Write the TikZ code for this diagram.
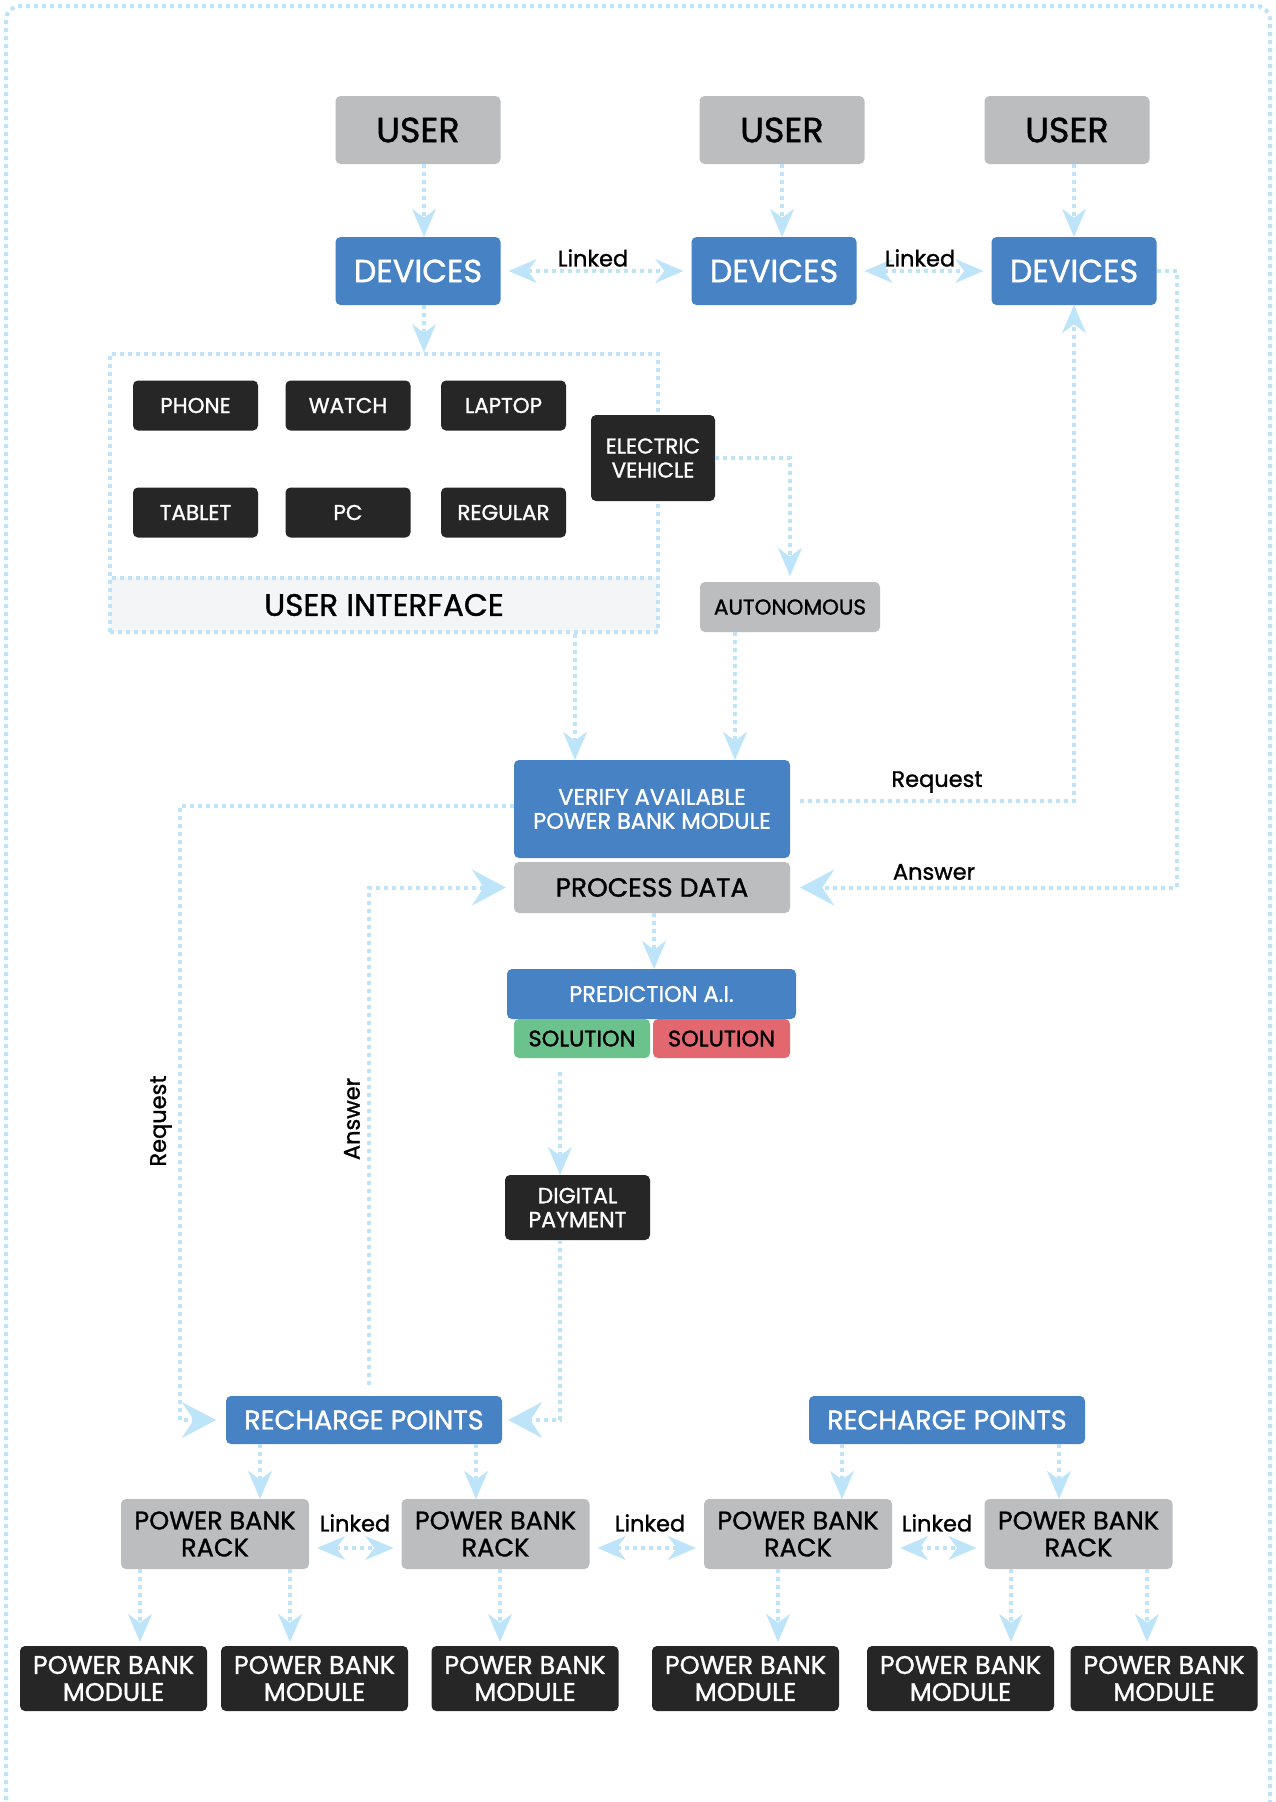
\documentclass[tikz,border=0pt]{standalone}
\usepackage{fontspec}
\setmainfont{Poppins}[UprightFeatures={FakeBold=1.2}]
\usetikzlibrary{arrows.meta,calc}
\definecolor{bluec}{RGB}{70,130,196}
\definecolor{grayc}{RGB}{188,189,191}
\definecolor{darkc}{RGB}{38,38,38}
\definecolor{linec}{RGB}{190,228,250}
\definecolor{greenc}{RGB}{108,194,140}
\definecolor{redc}{RGB}{227,103,111}
\definecolor{bandc}{RGB}{244,245,247}
\newcommand\fz[2]{\fontsize{#1}{#2}\selectfont}
\tikzset{
  box/.style={rounded corners=5pt, align=center, inner sep=0pt},
  gbox/.style={box, fill=grayc, text=black},
  bbox/.style={box, fill=bluec, text=white},
  kbox/.style={box, fill=darkc, text=white},
  conn/.style={draw=linec, line width=4pt, dash pattern=on 4pt off 4pt},
  tipa/.tip={Stealth[length=28pt,width=24pt,inset=9pt,line width=0.5pt]},
  tipb/.tip={Stealth[length=34pt,width=36pt,inset=12pt,line width=0.5pt]},
  arr/.style={conn, -tipa},
  arrb/.style={conn, -tipb},
  darr/.style={conn, tipa-tipa},
  lbl/.style={font=\fz{22.5}{26}, text=black, inner sep=0pt},
}
\begin{document}
\begin{tikzpicture}[x=1pt,y=-1pt]
\useasboundingbox (0,0) rectangle (1275,1802);
\fill[white] (0,0) rectangle (1275,1802);
\draw[conn, rounded corners=14pt] (6,1840) -- (6,6) -- (1270,6) -- (1270,1840);

% users
\node[gbox, minimum width=165pt, minimum height=68pt, font=\fz{35}{40}] (u1) at (418,130) {USER};
\node[gbox, minimum width=165pt, minimum height=68pt, font=\fz{35}{40}] (u2) at (782,130) {USER};
\node[gbox, minimum width=165pt, minimum height=68pt, font=\fz{35}{40}] (u3) at (1067,130) {USER};
% devices
\node[bbox, minimum width=165pt, minimum height=68pt, font=\fz{32}{36}] (d1) at (418,271) {DEVICES};
\node[bbox, minimum width=165pt, minimum height=68pt, font=\fz{32}{36}] (d2) at (774,271) {DEVICES};
\node[bbox, minimum width=165pt, minimum height=68pt, font=\fz{32}{36}] (d3) at (1074,271) {DEVICES};

\draw[arr] ([xshift=6pt]u1.south) -- ([xshift=6pt]d1.north);
\draw[arr] (u2.south) -- (u2.south |- d2.north);
\draw[arr] (d3.north |- u3.south) -- (d3.north);
\draw[darr, shorten <=8pt, shorten >=8pt] (d1.east) -- (d2.west);
\draw[darr, shorten <=8pt, shorten >=8pt] (d2.east) -- (d3.west);
\node[lbl] (lk1) at (593,258) {Linked};
\node[lbl] (lk2) at (920,258) {Linked};

% user interface
\node[conn, minimum width=548pt, minimum height=278pt, inner sep=0pt] (ui) at (384,493) {};
\node[conn, fill=bandc, minimum width=548pt, minimum height=54pt, inner sep=0pt, font=\fz{31}{35}] (uiband) at (384,605) {USER INTERFACE};
\draw[arr] ([xshift=6pt]d1.south) -- ([xshift=6pt]d1.south |- ui.north);

\node[kbox, minimum width=125pt, minimum height=50pt, font=\fz{21.5}{25}] (phone) at (195.5,405.5) {PHONE};
\node[kbox, minimum width=125pt, minimum height=50pt, font=\fz{21.5}{25}] (watch) at (348,405.5) {WATCH};
\node[kbox, minimum width=125pt, minimum height=50pt, font=\fz{21.5}{25}] (laptop) at (503.5,405.5) {LAPTOP};
\node[kbox, minimum width=125pt, minimum height=50pt, font=\fz{21.5}{25}] (tablet) at (195.5,512.5) {TABLET};
\node[kbox, minimum width=125pt, minimum height=50pt, font=\fz{21.5}{25}] (pc) at (348,512.5) {PC};
\node[kbox, minimum width=125pt, minimum height=50pt, font=\fz{21.5}{25}] (regular) at (503.5,512.5) {REGULAR};
\node[kbox, minimum width=124pt, minimum height=86pt, font=\fz{21.5}{24}] (ev) at (653,458) {ELECTRIC\\VEHICLE};

\node[gbox, minimum width=180pt, minimum height=50pt, font=\fz{21.5}{25}] (auto) at (790,607) {AUTONOMOUS};
\draw[arr, shorten >=6pt] (ev.east) -| (auto.north);

% verify / process
\node[bbox, minimum width=276pt, minimum height=98pt, font=\fz{22.5}{24}] (verify) at (652,809) {VERIFY AVAILABLE\\POWER BANK MODULE};
\node[gbox, minimum width=276pt, minimum height=51pt, font=\fz{26.4}{30}] (process) at (652,887.5) {PROCESS DATA};

\draw[arr] ([xshift=-77pt]verify.north |- ui.south) -- ([xshift=-77pt]verify.north);
\draw[arr] ([xshift=-55pt]auto.south) -- ([xshift=-55pt]auto.south |- verify.north);

\draw[arr, shorten <=10pt] ([yshift=8pt]verify.east) -| (d3.south);
\node[lbl] (req1) at (937,782) {Request};
\draw[arrb, shorten >=10pt] (d3.east) -- ++(20,0) |- (process.east);
\node[lbl] (ans1) at (934,872) {Answer};

% prediction
\node[bbox, minimum width=289pt, minimum height=50pt, font=\fz{22.5}{26}] (pred) at (651.5,994) {PREDICTION A.I.};
\node[box, fill=greenc, minimum width=136pt, minimum height=39pt, font=\fz{22.5}{26}] (solg) at (582,1038.5) {SOLUTION};
\node[box, fill=redc, minimum width=137pt, minimum height=39pt, font=\fz{22.5}{26}] (solr) at (721.5,1038.5) {SOLUTION};
\draw[arr] ([xshift=2pt]process.south) -- ([xshift=2pt]process.south |- pred.north);

\node[kbox, minimum width=145pt, minimum height=65pt, font=\fz{22}{24}] (dp) at (577.5,1207.5) {DIGITAL\\PAYMENT};
\draw[arr, shorten <=14pt] ([xshift=-22pt]solg.south) -- ([xshift=-22pt]solg.south |- dp.north);

% recharge points
\node[bbox, minimum width=276pt, minimum height=48pt, font=\fz{27}{30}] (rp1) at (364,1420) {RECHARGE POINTS};
\node[bbox, minimum width=276pt, minimum height=48pt, font=\fz{27}{30}] (rp2) at (947,1420) {RECHARGE POINTS};

\draw[arrb, shorten >=6pt] ([xshift=-17.5pt]dp.south) |- (rp1.east);
\draw[arrb, shorten >=10pt] ([yshift=3pt]verify.west) -- ++(-334,0) |- (rp1.west);
\node[lbl, rotate=90] (req2) at (161,1121) {Request};
\draw[arrb, shorten <=11pt, shorten >=8pt] ([xshift=5pt]rp1.north) |- (process.west);
\node[lbl, rotate=90] (ans2) at (352,1119) {Answer};

% racks
\node[gbox, minimum width=188pt, minimum height=70pt, font=\fz{25.5}{27}] (r1) at (215,1534) {POWER BANK\\RACK};
\node[gbox, minimum width=188pt, minimum height=70pt, font=\fz{25.5}{27}] (r2) at (495.5,1534) {POWER BANK\\RACK};
\node[gbox, minimum width=188pt, minimum height=70pt, font=\fz{25.5}{27}] (r3) at (798,1534) {POWER BANK\\RACK};
\node[gbox, minimum width=188pt, minimum height=70pt, font=\fz{25.5}{27}] (r4) at (1078.5,1534) {POWER BANK\\RACK};

\draw[arr] ([xshift=-104pt]rp1.south) -- ([xshift=-104pt]rp1.south |- r1.north);
\draw[arr] ([xshift=112pt]rp1.south) -- ([xshift=112pt]rp1.south |- r2.north);
\draw[arr] ([xshift=-105pt]rp2.south) -- ([xshift=-105pt]rp2.south |- r3.north);
\draw[arr] ([xshift=112pt]rp2.south) -- ([xshift=112pt]rp2.south |- r4.north);

\draw[darr, shorten <=8pt, shorten >=8pt] ([yshift=-14pt]r1.east) -- ([yshift=-14pt]r2.west);
\draw[darr, shorten <=8pt, shorten >=8pt] ([yshift=-14pt]r2.east) -- ([yshift=-14pt]r3.west);
\draw[darr, shorten <=8pt, shorten >=8pt] ([yshift=-14pt]r3.east) -- ([yshift=-14pt]r4.west);
\node[lbl] (lk3) at (355,1523) {Linked};
\node[lbl] (lk4) at (650,1523) {Linked};
\node[lbl] (lk5) at (937,1523) {Linked};

% modules
\node[kbox, minimum width=187pt, minimum height=65pt, font=\fz{25.5}{27}] (m1) at (113.5,1678.5) {POWER BANK\\MODULE};
\node[kbox, minimum width=187pt, minimum height=65pt, font=\fz{25.5}{27}] (m2) at (314.5,1678.5) {POWER BANK\\MODULE};
\node[kbox, minimum width=187pt, minimum height=65pt, font=\fz{25.5}{27}] (m3) at (525,1678.5) {POWER BANK\\MODULE};
\node[kbox, minimum width=187pt, minimum height=65pt, font=\fz{25.5}{27}] (m4) at (745.5,1678.5) {POWER BANK\\MODULE};
\node[kbox, minimum width=187pt, minimum height=65pt, font=\fz{25.5}{27}] (m5) at (960.5,1678.5) {POWER BANK\\MODULE};
\node[kbox, minimum width=187pt, minimum height=65pt, font=\fz{25.5}{27}] (m6) at (1164,1678.5) {POWER BANK\\MODULE};

\draw[arr, shorten >=4pt] ([xshift=-75pt]r1.south) -- ([xshift=-75pt]r1.south |- m1.north);
\draw[arr, shorten >=4pt] ([xshift=75pt]r1.south) -- ([xshift=75pt]r1.south |- m2.north);
\draw[arr, shorten >=4pt] ([xshift=4.5pt]r2.south) -- ([xshift=4.5pt]r2.south |- m3.north);
\draw[arr, shorten >=4pt] ([xshift=-20pt]r3.south) -- ([xshift=-20pt]r3.south |- m4.north);
\draw[arr, shorten >=4pt] ([xshift=-67.5pt]r4.south) -- ([xshift=-67.5pt]r4.south |- m5.north);
\draw[arr, shorten >=4pt] ([xshift=68.5pt]r4.south) -- ([xshift=68.5pt]r4.south |- m6.north);
\end{tikzpicture}
\end{document}
